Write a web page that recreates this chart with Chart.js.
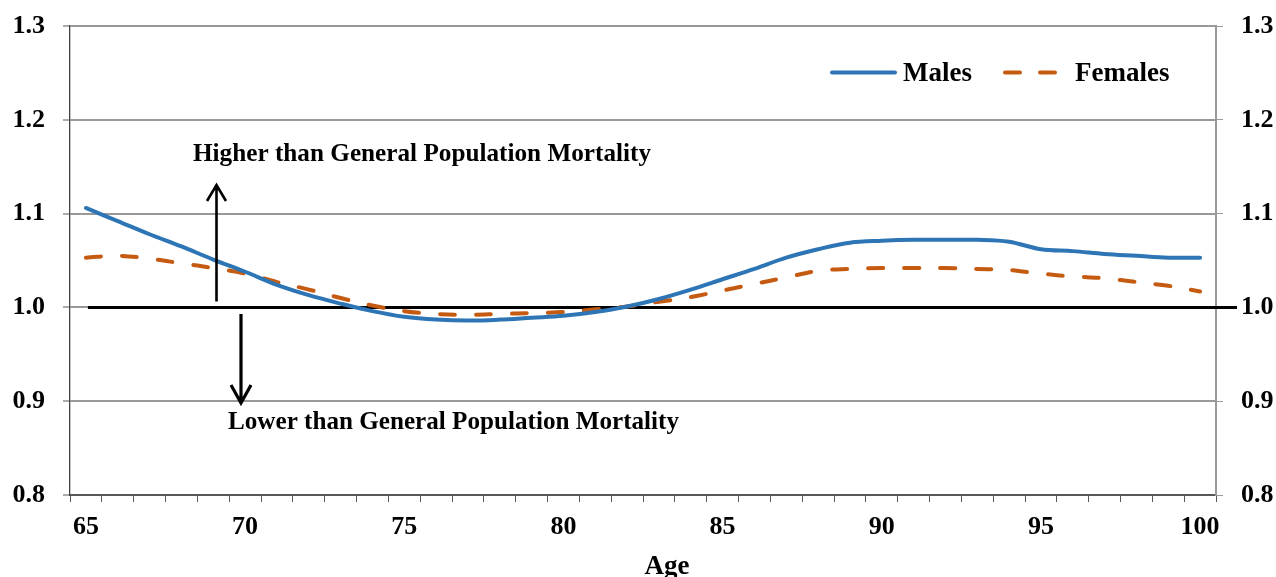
<!DOCTYPE html>
<html>
<head>
<meta charset="utf-8">
<script src="https://cdn.jsdelivr.net/npm/chart.js@4.4.1/dist/chart.umd.min.js"></script>
<style>
html,body{margin:0;padding:0;background:#fff;}
#wrap{width:1276px;height:577px;position:relative;}
</style>
</head>
<body>
<div id="wrap"><canvas id="c" width="1276" height="577"></canvas></div>
<script>
const ages = [65,66,67,68,69,70,71,72,73,74,75,76,77,78,79,80,81,82,83,84,85,86,87,88,89,90,91,92,93,94,95,96,97,98,99,100];
const males = [1.106,1.092,1.078,1.065,1.051,1.038,1.024,1.013,1.004,0.996,0.990,0.987,0.986,0.987,0.989,0.991,0.995,1.001,1.009,1.019,1.030,1.041,1.053,1.062,1.069,1.071,1.072,1.072,1.072,1.070,1.062,1.060,1.057,1.055,1.053,1.053];
const females = [1.053,1.055,1.052,1.047,1.042,1.036,1.027,1.019,1.010,1.002,0.996,0.993,0.992,0.993,0.994,0.995,0.998,1.001,1.006,1.011,1.018,1.025,1.032,1.039,1.041,1.042,1.042,1.042,1.041,1.040,1.036,1.033,1.031,1.027,1.023,1.017];
const yTicks = [0.8,0.9,1.0,1.1,1.2,1.3];
const xLabelEvery = 5;
const seriesNames = ['Males','Females'];
const baseline = 1.0;
const noteHigh = 'Higher than General Population Mortality';
const noteLow = 'Lower than General Population Mortality';
const xTitle = 'Age';

const FONT = '"Liberation Serif", "Times New Roman", serif';
const BLUE = '#2E75B6';
const ORANGE = '#C55A11';

const overlay = {
  id: 'overlay',
  beforeDatasetsDraw(chart) {
    const ctx = chart.ctx;
    const x = chart.scales.x, y = chart.scales.y;
    const yb = y.getPixelForValue(baseline);
    ctx.save();
    ctx.strokeStyle = '#000';
    ctx.lineWidth = 3;
    ctx.beginPath();
    ctx.moveTo(x.getPixelForValue(0) + 2, yb);
    ctx.lineTo(chart.chartArea.right + 21, yb);
    ctx.stroke();
    ctx.restore();
  },
  afterDraw(chart) {
    const ctx = chart.ctx;
    ctx.save();
    ctx.fillStyle = '#000';
    ctx.strokeStyle = '#000';
    ctx.textBaseline = 'alphabetic';
    ctx.textAlign = 'left';
    // annotations
    ctx.font = 'bold 26px ' + FONT;
    ctx.fillText(noteHigh, 193, 161, 458);
    ctx.fillText(noteLow, 228, 429, 451);
    // up arrow
    ctx.lineWidth = 2.6;
    ctx.lineCap = 'butt';
    ctx.beginPath();
    ctx.moveTo(216.5, 301.5); ctx.lineTo(216.5, 185);
    ctx.moveTo(207, 201); ctx.lineTo(216.5, 185); ctx.lineTo(226, 201);
    ctx.stroke();
    // down arrow
    ctx.lineWidth = 3.2;
    ctx.beginPath();
    ctx.moveTo(241, 314); ctx.lineTo(241, 403);
    ctx.moveTo(231, 385); ctx.lineTo(241, 403); ctx.lineTo(251, 385);
    ctx.stroke();
    // legend
    ctx.lineCap = 'round';
    ctx.lineWidth = 4;
    ctx.strokeStyle = BLUE;
    ctx.beginPath(); ctx.moveTo(832, 72.5); ctx.lineTo(895, 72.5); ctx.stroke();
    ctx.strokeStyle = ORANGE;
    ctx.beginPath(); ctx.moveTo(1005, 72.5); ctx.lineTo(1020, 72.5);
    ctx.moveTo(1040, 72.5); ctx.lineTo(1055, 72.5); ctx.stroke();
    ctx.font = 'bold 27px ' + FONT;
    ctx.fillText(seriesNames[0], 903, 81, 70);
    ctx.fillText(seriesNames[1], 1075, 81, 96);
    // x title
    ctx.textAlign = 'center';
    ctx.fillText(xTitle, 667, 574);
    ctx.restore();
  }
};

new Chart(document.getElementById('c'), {
  type: 'line',
  data: {
    labels: ages.map(String),
    datasets: [
      { label: seriesNames[0], data: males, borderColor: BLUE, borderWidth: 4, pointRadius: 0, tension: 0.35, fill: false, borderCapStyle: 'round', yAxisID: 'y' },
      { label: seriesNames[1], data: females, borderColor: ORANGE, borderWidth: 4, pointRadius: 0, tension: 0.35, fill: false, borderDash: [15, 21], borderCapStyle: 'round', yAxisID: 'y' }
    ]
  },
  options: {
    responsive: false,
    animation: false,
    events: [],
    layout: { padding: { top: 26, left: 0, right: 0, bottom: 0 } },
    plugins: { legend: { display: false }, tooltip: { enabled: false }, title: { display: false } },
    scales: {
      x: {
        type: 'category',
        offset: true,
        grid: { offset: true, drawOnChartArea: false, drawTicks: true, tickLength: 7, tickColor: '#595959', tickWidth: 1 },
        border: { color: '#595959', width: 2 },
        ticks: {
          autoSkip: false, maxRotation: 0, padding: 10, color: '#000',
          font: { family: FONT, size: 26, weight: 'bold' },
          callback: function(v, i) { return (ages[i] - ages[0]) % xLabelEvery === 0 ? String(ages[i]) : ''; }
        },
        afterFit(s) { s.height = 82; }
      },
      y: {
        position: 'left', min: 0.8, max: 1.3,
        afterBuildTicks(s) { s.ticks = yTicks.map(v => ({ value: v })); },
        grid: { color: '#999999', lineWidth: 2, tickLength: 7, tickColor: '#595959', tickWidth: 1 },
        border: { color: '#404040', width: 1.3 },
        ticks: { padding: 18, color: '#000', font: { family: FONT, size: 26, weight: 'bold', lineHeight: 0.8 }, callback: v => v.toFixed(1) },
        afterFit(s) { s.width = 70; s.paddingTop = 0; s.paddingBottom = 0; }
      },
      y2: {
        position: 'right', min: 0.8, max: 1.3,
        afterBuildTicks(s) { s.ticks = yTicks.map(v => ({ value: v })); },
        grid: { drawOnChartArea: false, tickLength: 7, tickColor: '#999999', tickWidth: 1 },
        border: { color: '#999999', width: 2 },
        ticks: { padding: 18, color: '#000', font: { family: FONT, size: 26, weight: 'bold', lineHeight: 0.8 }, callback: v => v.toFixed(1) },
        afterFit(s) { s.width = 60; s.paddingTop = 0; s.paddingBottom = 0; }
      }
    }
  },
  plugins: [overlay]
});
</script>
</body>
</html>
